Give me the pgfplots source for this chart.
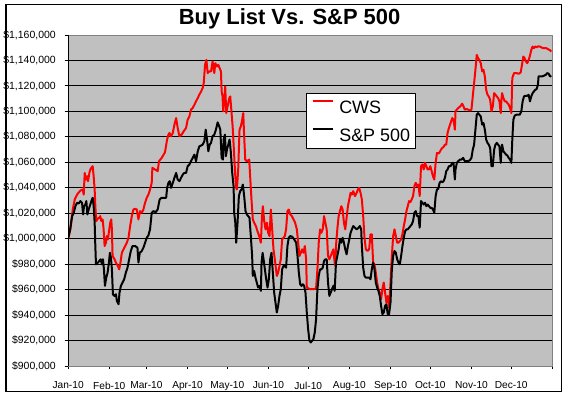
\documentclass[border=0pt]{standalone}
\usepackage{pgfplots}
\pgfplotsset{compat=1.18}
\usepackage{fontspec}
\setmainfont{Liberation Sans}
\definecolor{plotbg}{HTML}{C0C0C0}
\definecolor{frameg}{HTML}{808080}
\definecolor{cwsred}{HTML}{FF0000}
\begin{document}
\begin{tikzpicture}
\begin{axis}[
  scale only axis, width=485.6pt, height=332pt,
  xmin=0, xmax=365, ymin=900000, ymax=1160000,
  axis background/.style={fill=plotbg},
  axis line style={draw=frameg, line width=0.8pt},
  xtick={0,31,59,90,120,151,181,212,243,273,304,334,365},
  xticklabels={Jan-10,Feb-10,Mar-10,Apr-10,May-10,Jun-10,Jul-10,Aug-10,Sep-10,Oct-10,Nov-10,Dec-10,{}},
  ytick={900000,920000,940000,960000,980000,1000000,1020000,1040000,1060000,1080000,1100000,1120000,1140000,1160000},
  yticklabels={{\$900,000},{\$920,000},{\$940,000},{\$960,000},{\$980,000},{\$1,000,000},{\$1,020,000},{\$1,040,000},{\$1,060,000},{\$1,080,000},{\$1,100,000},{\$1,120,000},{\$1,140,000},{\$1,160,000}},
  scaled y ticks=false,
  tick align=outside, xtick pos=bottom, ytick pos=left,
  major tick length=3.4pt,
  tick style={black, line width=0.8pt},
  ymajorgrids, major grid style={black, line width=0.8pt},
  xticklabel style={font=\fontsize{10.2}{12}\selectfont, yshift=-9pt},
  yticklabel style={font=\fontsize{10.5}{12}\selectfont, xshift=-5.5pt},
  /pgf/number format/assume math mode=true,
  title={Buy List Vs. S\&P 500},
  title style={at={(0.4574,1.012)}, anchor=base, inner sep=0pt, font=\bfseries\fontsize{22}{26}\selectfont},
  legend style={at={(0.4918,0.8244)}, anchor=north west, draw=black, line width=0.8pt, fill=white,
    font=\fontsize{18}{20}\selectfont, inner xsep=5pt, inner ysep=6.5pt,
    nodes={inner sep=0pt, text height=13pt, text depth=0.5pt},
    row sep=13.8pt, column sep=5.7pt},
  legend cell align=left,
  legend image code/.code={\draw[#1] (0pt,6.5pt) -- (20pt,6.5pt);},
  line join=round,
]
\addplot[cwsred, line width=2pt] coordinates {
(0,1000000) (1.75,1007300) (3.5,1022900) (5,1030800) (6.75,1034600) (9.25,1037800) (11,1038600) (11.75,1034600)
(12.5,1051600) (13.5,1046400) (14.25,1049000) (15,1045100) (16,1051600) (16.75,1054300) (17.5,1055600) (18.5,1056900)
(19.25,1049000) (20,1038600) (20.5,1025500) (21.25,1013800) (22.25,1015600) (23.5,1016400) (24.25,1017700) (25,1013800)
(26,1015100) (26.75,1007300) (27.5,994200) (28.5,996800) (29.25,1002000) (30,999400) (31,1007300) (31.75,1012500)
(32.5,1015100) (33,1007300) (33.5,986400) (35,983800) (36,981200) (37.5,978500) (38.5,975900) (39.25,979800)
(40.5,988900) (41.75,991600) (43,994200) (44.25,996800) (45.5,1000700) (46.75,1009900) (48,1017700) (49.25,1022900)
(50.5,1023400) (51.75,1022900) (53,1015100) (54.25,1021600) (55.5,1020300) (56.75,1022900) (58,1028200) (59.25,1032100)
(60.5,1034600) (61.75,1038600) (63,1043800) (63.5,1055600) (65.5,1054300) (67.5,1053000) (68.5,1060800) (70.5,1063400)
(73,1067800) (74.6,1077800) (75.6,1081700) (76.4,1083000) (77.6,1080400) (78.9,1083000) (80.1,1089500) (81.4,1094700)
(82.6,1086900) (83.9,1080400) (85.6,1081700) (87.1,1084300) (88.9,1086900) (90.1,1093400) (91.4,1096000) (92.6,1101300)
(93.9,1102600) (95.2,1105200) (96.4,1107800) (97.7,1110400) (98.9,1113000) (100.2,1115600) (101.4,1118200) (102.2,1122100)
(103.2,1136500) (104.2,1140400) (105.2,1130000) (106.4,1131300) (107.7,1131300) (108.9,1139100) (110.2,1130000) (110.9,1137800)
(112.2,1135200) (113.2,1136500) (114.2,1133900) (115.2,1131300) (115.7,1115600) (116.4,1111700) (116.9,1100000) (117.7,1107800)
(118.4,1119500) (119.2,1098600) (120.2,1103900) (121.5,1110400) (122.2,1111700) (123.2,1098600) (124,1088200) (125.2,1064700)
(126,1049000) (126.7,1039900) (127.2,1038600) (128.2,1054300) (129.2,1085600) (130.2,1088200) (131.2,1093400) (132,1098600)
(132.7,1080400) (133.5,1062100) (134.7,1060800) (136.5,1062100) (137.2,1049000) (138.2,1030800) (139.2,1015100) (140.2,1012500)
(141.5,1009900) (142.7,1005900) (144,1002000) (145.3,996800) (146.1,1017700) (146.8,1025500) (147.8,1013800) (148.8,1007300)
(149.8,1012500) (150.8,1004600) (151.8,1002000) (152.8,1022900) (153.8,1007300) (154.8,991600) (156.1,981200) (157.3,970700)
(158.3,973300) (159.3,978500) (160.3,983800) (161.3,999400) (162.3,1000700) (163.3,1002000) (164.3,1007300) (165.3,1021600)
(166.3,1022900) (167.4,1019000) (168.6,1017700) (169.9,1015100) (171.1,1012500) (172.4,1007300) (173.4,996800) (174.4,986400)
(175.4,988900) (176.4,991600) (177.4,988900) (178.4,994200) (179.4,983800) (179.9,961600) (182.4,960300) (184.9,960300)
(186.9,960800) (187.9,975900) (188.9,996800) (189.9,1007300) (190.9,1004600) (191.9,1007300) (192.9,1017700) (193.9,1012500)
(194.9,1007300) (195.9,986400) (196.9,983800) (197.9,986400) (198.9,988900) (199.9,991600) (200.9,981200) (201.4,978500)
(201.9,994200) (202.9,1007300) (203.9,1017700) (204.9,1021600) (205.9,1025500) (206.9,1022900) (207.9,1012500) (208.9,1007300)
(209.9,1016400) (210.9,1025500) (211.9,1030800) (212.9,1036000) (213.9,1034600) (214.9,1037300) (216.2,1033400) (217.5,1036000)
(218.4,1038600) (219.4,1039900) (220.4,1036000) (221.4,1030800) (222.4,1017700) (223.4,1000700) (224.4,991600) (225.7,990300)
(226.9,991600) (227.9,1003400) (228.9,1003400) (229.9,981200) (230.9,979800) (231.9,973300) (232.9,965500) (233.9,960300)
(234.9,957700) (235.9,952400) (236.9,960300) (237.9,965500) (238.9,957700) (239.9,949800) (240.9,955000) (241.9,945900)
(243,965500) (244,986400) (245,1002000) (246,1007300) (247,1002000) (248,996800) (249,996800) (250,998100)
(251,999400) (252,1003400) (253,1009900) (254,1015100) (255,1021600) (256,1025500) (257,1029500) (258,1028700)
(259,1030800) (260,1033400) (261,1041200) (262,1043800) (263,1041200) (264,1042500) (265,1033400) (266,1056900)
(267,1058200) (268,1054300) (269,1059500) (270,1056900) (271,1054300) (272,1054300) (273,1056900) (274,1053000)
(275,1049000) (276,1046400) (277,1059500) (278,1067300) (279,1066800) (280,1067800) (281,1069900) (282,1071200)
(283,1072000) (284,1073800) (285,1073800) (286,1083000) (287,1086900) (288.3,1090800) (289.5,1094700) (290.5,1093400)
(291.5,1085600) (292,1100000) (293,1101300) (294,1102600) (295,1103300) (296,1104400) (297,1106000) (298,1103900)
(299,1101300) (300.3,1101800) (301.5,1101300) (302.8,1100700) (304,1101300) (305,1111700) (306,1122100) (307,1132600)
(308,1144300) (309,1141700) (310,1140400) (311,1137800) (312.1,1131300) (313.1,1132600) (314.1,1127400) (315.1,1116900)
(316.1,1113000) (317.1,1111700) (318.1,1109100) (319.1,1100000) (320.1,1103900) (321.1,1114300) (322.1,1113000) (323.1,1111700)
(324.1,1110400) (325.1,1107800) (326.1,1098600) (326.6,1109100) (327.1,1114300) (328.1,1110400) (329.1,1107800) (330.1,1107800)
(331.1,1106500) (332.1,1105200) (333.1,1102600) (334.1,1098600) (334.8,1126100) (336.1,1130000) (337.9,1130000) (339.6,1129500)
(341.1,1130500) (342.1,1136500) (343.1,1143000) (344.1,1141700) (345.1,1139100) (346.1,1137800) (347.1,1140400) (348.1,1143600)
(349.1,1148200) (350.1,1150900) (351.1,1149600) (352.1,1150900) (353.1,1150300) (354.1,1150900) (355.4,1150900) (356.6,1150300)
(357.9,1149600) (359.1,1149600) (360.4,1149600) (361.7,1148800) (362.9,1148200) (364.2,1146900)
};
\addlegendentry{CWS}
\addplot[black, line width=2pt] coordinates {
(0,1000000) (1.5,1007300) (3,1017700) (4.25,1020300) (5.5,1025500) (6.75,1028200) (8,1027600) (9.25,1029500)
(10.5,1028200) (11.25,1019000) (12,1025500) (13,1026800) (13.75,1029500) (14.5,1019000) (15.5,1022900) (16.75,1026800)
(17.5,1029500) (18.5,1032100) (19.25,1025500) (20,1012500) (20.5,994200) (21,979800) (22.5,981200) (23.5,982500)
(24.5,983800) (25.5,979800) (26.25,983800) (27,975900) (27.75,962900) (28.75,969400) (29.75,973300) (30.75,981200)
(31.5,988900) (32.25,985100) (33,975900) (33.75,956300) (35,955000) (36,956300) (36.75,951100) (38,948500)
(38.75,957700) (39.75,962900) (41,965500) (42.25,968100) (43.5,973300) (44.75,977200) (46,983800) (47.25,990300)
(48.5,994200) (50.5,994200) (52.25,992900) (53,981200) (54,988900) (55.5,990300) (56.75,992900) (58,996800)
(59.25,1000700) (60.5,1002500) (61.75,1007300) (63,1020300) (64.25,1021600) (66,1020800) (67.5,1022900) (69,1030800)
(70.5,1032100) (73,1032100) (73.9,1032100) (74.6,1039900) (75.6,1043800) (76.6,1045100) (77.6,1039900) (78.9,1043800)
(80.1,1047700) (81.4,1051600) (82.6,1046400) (83.9,1045100) (85.1,1047700) (86.4,1050300) (87.6,1051600) (88.9,1051600)
(90.1,1056900) (91.4,1058200) (92.6,1060800) (93.9,1063400) (95.2,1066000) (96.4,1060800) (97.7,1068600) (98.9,1072500)
(100.2,1073100) (101.4,1073800) (102.7,1076500) (103.7,1085600) (104.7,1077800) (105.7,1068600) (106.7,1073800) (107.7,1075200)
(108.9,1080400) (110.2,1081700) (111.4,1085600) (112.7,1091300) (113.9,1088200) (114.7,1085600) (115.7,1063400) (116.7,1062100)
(117.2,1077800) (118.2,1081700) (118.9,1064700) (119.7,1069900) (120.7,1073800) (121.7,1077800) (122.7,1067300) (123.7,1051600)
(124.7,1041200) (125.2,1020300) (126,1012500) (126.7,996800) (127.7,1012500) (128.7,1033400) (129.7,1037300) (130.7,1038600)
(131.7,1042500) (132.7,1033400) (133.7,1021600) (134.7,1019000) (135.7,1017700) (136.7,1016400) (137.7,1002000) (138.7,986400)
(139.2,970700) (140.2,974600) (141.2,969400) (142.2,965500) (143.2,961600) (144.2,962900) (145.3,959000) (145.8,981200)
(146.6,988900) (147.3,983800) (148.3,975900) (149.3,968100) (150.3,961600) (151.3,968100) (152.3,983800) (153.3,988900)
(154.3,973300) (155.3,957700) (156.3,949800) (157.3,942000) (158.3,947200) (159.3,955000) (160.3,960300) (161.3,975900)
(162.3,978500) (163.3,978500) (164.3,977200) (165.3,994200) (166.3,1000700) (167.4,1002000) (168.9,1001500) (170.4,999400)
(171.9,996800) (172.9,986400) (173.9,973300) (174.9,964200) (175.9,962900) (176.9,964200) (177.9,962900) (178.9,957700)
(179.9,942000) (180.9,928900) (181.9,919800) (182.9,918500) (183.9,919800) (184.9,921100) (185.9,926300) (186.9,936800)
(187.9,960300) (188.9,970700) (189.9,975900) (190.9,975900) (191.9,977200) (192.9,982500) (193.9,983800) (194.9,983800)
(195.9,965500) (196.9,955000) (197.9,957700) (198.9,960300) (199.9,962900) (200.9,959000) (201.9,981200) (202.9,986400)
(203.9,991600) (204.9,999400) (205.9,996800) (206.9,1000700) (207.9,996800) (208.9,991600) (209.9,987700) (210.9,994200)
(211.9,999400) (212.9,1004600) (213.9,1007300) (214.9,1009900) (216.2,1008600) (217.5,1007300) (218.9,1008600) (219.9,1009900)
(220.9,1007300) (221.4,994200) (222.4,977200) (223.4,970700) (224.4,969400) (225.7,969400) (226.9,969400) (227.9,968100)
(228.9,975900) (229.9,981200) (230.9,975900) (231.9,965500) (232.9,961600) (233.9,959000) (234.9,955000) (235.9,947200)
(236.9,940700) (237.9,942000) (238.9,947200) (239.9,948500) (240.9,940700) (241.9,940700) (243,949800) (244,975900)
(245,986400) (246,990300) (247,988900) (248,983800) (249,981200) (250,979800) (251,986400) (252,994200)
(253,1000700) (254,1005900) (255,1007300) (256,1007300) (257,1008600) (258,1009900) (259,1011200) (260,1013800)
(261,1020300) (262,1021600) (263,1017700) (264,1017700) (265,1008600) (266,1029500) (267,1028200) (268,1026800)
(269,1028200) (270,1025500) (271,1026800) (272,1025500) (273,1024200) (274,1024200) (275,1022900) (276,1020300)
(277,1033400) (278,1038600) (279,1039100) (280,1043800) (281,1045100) (282,1044300) (283,1045100) (284,1047700)
(285,1053000) (286,1054300) (287,1056900) (288.3,1056900) (289.5,1059500) (290.5,1059500) (291.5,1046400) (292,1054300)
(293,1059500) (294,1060800) (295.3,1062100) (296.5,1062100) (297.8,1063400) (299,1060800) (300.3,1060800) (301.5,1060800)
(302.8,1061600) (304,1063400) (305,1069900) (306,1073800) (307,1085600) (308,1097300) (309,1098600) (310,1097300)
(311,1096000) (312.1,1089500) (313.1,1090800) (314.1,1085600) (315.1,1077800) (316.1,1075200) (317.1,1073800) (318.1,1071200)
(319.1,1056900) (320.1,1056900) (321.1,1069900) (322.1,1073800) (323.1,1075200) (324.1,1073800) (325.1,1072500) (326.1,1059500)
(326.6,1069900) (327.1,1073800) (328.1,1068600) (329.1,1067300) (330.1,1066000) (331.1,1065200) (332.1,1063400) (333.1,1062100)
(334.1,1059500) (334.8,1077800) (335.6,1093400) (336.6,1096600) (337.9,1097300) (339.1,1097300) (340.4,1097300) (341.6,1100000)
(342.6,1107800) (343.6,1111700) (344.6,1112200) (346.1,1112200) (347.1,1113000) (348.1,1107800) (349.1,1111700) (350.1,1114300)
(351.1,1115600) (352.1,1116900) (353.1,1117400) (354.1,1120800) (354.6,1127400) (355.6,1127400) (357.1,1127400) (358.6,1127900)
(360.1,1128700) (361.1,1130000) (362.2,1129500) (363.2,1127400) (364.2,1127900)
};
\addlegendentry{S\&P 500}
\draw[black, line width=0.8pt] (rel axis cs:0,1) -- (rel axis cs:0,0) -- (rel axis cs:1,0);
\end{axis}
\path (-66.7pt,-30pt) rectangle (509.3pt,367pt);
\draw[black, line width=1.5pt] (-62.2pt,-25.7pt) rectangle (494.8pt,362.5pt);
\end{tikzpicture}
\end{document}
